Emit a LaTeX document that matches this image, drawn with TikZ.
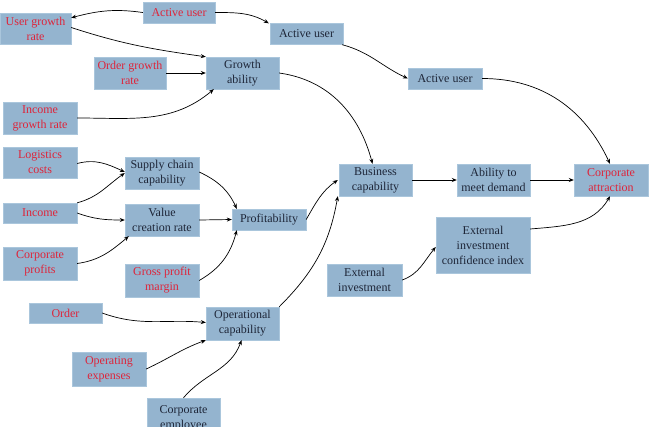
\documentclass[tikz,border=0pt]{standalone}
\usepackage{fontspec}
\setmainfont{Liberation Serif}
\newfontfamily\boxfont{Liberation Serif}
\usepackage{tikz}
\usetikzlibrary{arrows.meta,positioning}
\definecolor{boxfill}{RGB}{148,180,207}
\definecolor{boxline}{RGB}{170,198,220}
\definecolor{ink}{RGB}{30,38,56}
\definecolor{cRed}{RGB}{222,36,58}
\tikzset{
  obj/.style={draw=boxline,fill=boxfill,inner sep=0pt,align=center,
    text=ink,font=\boxfont\fontsize{12}{15}\selectfont},
  src/.style={obj,text=cRed},
  ar/.style={-{Stealth[length=5pt,width=4pt]},line width=0.7pt,draw=black},
}

\begin{document}
\begin{tikzpicture}[x=1pt,y=-1pt]
  \useasboundingbox (0,0) rectangle (653,426);
  % growth branch
  \node[src,minimum width=72,minimum height=21] (actA) at (179,12.5) {Active user};
  \node[src,minimum width=71,minimum height=31] (ugr) at (35.5,28.5) {User growth\\rate};
  \node[obj,minimum width=73,minimum height=21] (actB) at (306.5,34) {Active user};
  \node[obj,minimum width=74,minimum height=21] (actC) at (445,78.5) {Active user};
  \node[src,minimum width=72,minimum height=32] (ogr) at (130,73) {Order growth\\rate};
  \node[obj,minimum width=73,minimum height=32] (grow) at (242.5,73) {Growth\\ability};
  \node[src,minimum width=74,minimum height=32] (igr) at (40,118) {Income\\growth rate};

  % profitability branch
  \node[src,minimum width=74,minimum height=31] (logi) at (40,162.5) {Logistics\\costs};
  \node[obj,minimum width=74,minimum height=32] (sup) at (162,173) {Supply chain\\capability};
  \node[src,minimum width=74,minimum height=20] (inc) at (40,213) {Income};
  \node[obj,minimum width=74,minimum height=32] (val) at (162,220) {Value\\creation rate};
  \node[obj,minimum width=74,minimum height=21] (prof) at (269,219.5) {Profitability};
  \node[src,minimum width=74,minimum height=33] (cpro) at (40,263.5) {Corporate\\profits};
  \node[src,minimum width=74,minimum height=33] (gpm) at (162,280.5) {Gross profit\\margin};

  % main chain
  \node[obj,minimum width=73,minimum height=32] (bus) at (375.5,180) {Business\\capability};
  \node[obj,minimum width=73,minimum height=32] (abil) at (493.5,180) {Ability to\\meet demand};
  \node[src,minimum width=74,minimum height=32] (attr) at (611,180) {Corporate\\attraction};
  \node[obj,minimum width=94,minimum height=56] (eici) at (483,245) {External\\investment\\confidence index};
  \node[obj,minimum width=75,minimum height=32] (exin) at (364.5,280) {External\\investment};

  % operational branch
  \node[src,minimum width=73,minimum height=20] (ord) at (65.5,313) {Order};
  \node[obj,minimum width=73,minimum height=33] (opc) at (242.5,323.5) {Operational\\capability};
  \node[src,minimum width=74,minimum height=34] (opex) at (109,369) {Operating\\expenses};
  \node[obj,minimum width=73,minimum height=40] (emp) at (183.5,418) {Corporate\\employee};

  \draw[ar] (actA.west) to[out=172,in=15] ([yshift=-5pt]ugr.north east);
  \draw[ar] (actA.east) to[out=0,in=150] ([xshift=-1pt]actB.north west);
  \draw[ar] ([xshift=-1pt]actB.south east) to[out=-15,in=155] (actC.west);
  \draw[ar] (actC.east) to[out=0,in=115] ([xshift=-1pt]attr.north);
  \draw[ar] ([yshift=1pt]ugr.east) to[out=-18,in=172] (grow.north west);
  \draw[ar] (ogr.east) -- (grow.west);
  \draw[ar] (igr.east) to[out=0,in=-140] ([xshift=8pt]grow.south west);
  \draw[ar] (grow.east) to[out=-8,in=105] ([xshift=-3pt]bus.north);

  \draw[ar] ([yshift=-1pt]logi.east) to[out=15,in=155] ([yshift=1pt]sup.west);
  \draw[ar] (inc.north east) to[out=15,in=-145] (sup.west);
  \draw[ar] (inc.east) to[out=-20,in=180] (val.west);
  \draw[ar] (cpro.east) to[out=8,in=-140] ([xshift=4pt]val.south west);
  \draw[ar] ([yshift=1pt]sup.east) to[out=-25,in=115] ([xshift=5pt]prof.north west);
  \draw[ar] (val.east) -- (prof.west);
  \draw[ar] (gpm.east) to[out=30,in=-105] ([xshift=5pt]prof.south west);
  \draw[ar] (prof.east) to[out=60,in=-145] ([xshift=-1pt]bus.west);

  \draw[ar] (opc.north east) to[out=45,in=-100] ([xshift=-1pt]bus.south west);
  \draw[ar] (bus.east) -- (abil.west);
  \draw[ar] (abil.east) -- (attr.west);
  \draw[ar] (exin.east) to[out=20,in=-130] ([yshift=-2pt]eici.west);
  \draw[ar] ([yshift=16pt]eici.east) to[out=5,in=-120] ([xshift=-1pt]attr.south);

  \draw[ar] (ord.east) to[out=-20,in=175] ([yshift=1pt]opc.west);
  \draw[ar] (opex.east) to[out=25,in=-160] (opc.south west);
  \draw[ar] (emp.north) to[out=50,in=-110] ([xshift=-1pt]opc.south);
\end{tikzpicture}
\end{document}
